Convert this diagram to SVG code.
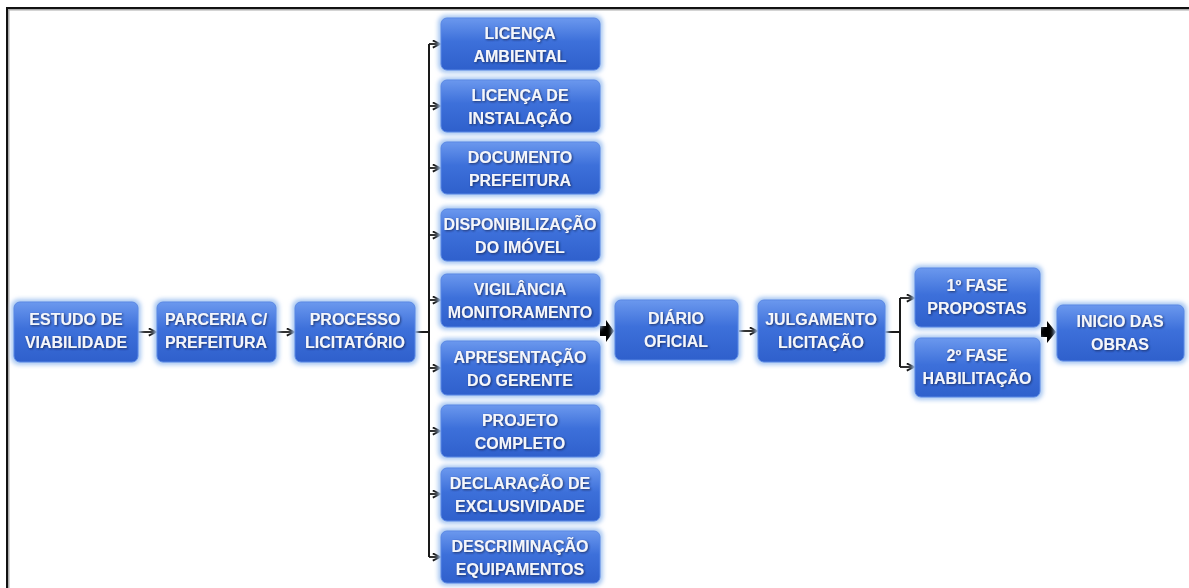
<svg xmlns="http://www.w3.org/2000/svg" width="1189" height="588" viewBox="0 0 1189 588">
<defs>
<linearGradient id="bg" x1="0" y1="0" x2="0" y2="1">
<stop offset="0" stop-color="#6b98ee"/>
<stop offset="0.45" stop-color="#3d70da"/>
<stop offset="1" stop-color="#2f60cc"/>
</linearGradient>
<filter id="glow" x="-10%" y="-20%" width="120%" height="140%">
<feGaussianBlur stdDeviation="2"/>
</filter>
<filter id="ts" x="-10%" y="-30%" width="120%" height="160%">
<feDropShadow dx="1" dy="1" stdDeviation="0.8" flood-color="#13295e" flood-opacity="0.9"/>
</filter>
<marker id="oa" viewBox="0 0 10 10" refX="9" refY="5" markerWidth="9" markerHeight="9" markerUnits="userSpaceOnUse" orient="auto">
<path d="M1,1 L9,5 L1,9" fill="none" stroke="#111" stroke-width="2"/>
</marker>
</defs>
<style>
.g{fill:#a9c8f2;filter:url(#glow)}
.b{fill:url(#bg);stroke:#5a88e4;stroke-width:1}
.t{font-family:"Liberation Sans",Arial,sans-serif;font-weight:bold;font-size:16px;fill:#f4f6fb;text-anchor:middle;filter:url(#ts)}
.c{fill:none;stroke:#1a1a1a;stroke-width:2}
.a{fill:none;stroke:#1a1a1a;stroke-width:1.8;marker-end:url(#oa)}
.k{fill:#000}
.f{stroke:#111;stroke-width:2;fill:none}
</style>
<rect width="1189" height="588" fill="#ffffff"/>
<g id="frame">
<path d="M8,589 L8,9 L1189,9" stroke="#aaa" stroke-width="3" fill="none"/>
<path d="M7,588 L7,8 L1189,8" class="f"/>
</g>
<g id="connectors">
<path class="a" d="M138,332 L156,332"/>
<path class="a" d="M276,332 L294,332"/>
<path class="c" d="M415,332 L429,332"/>
<path class="c" d="M429,44 L429,557"/>
<path class="a" d="M429,44 L440,44"/>
<path class="a" d="M429,106 L440,106"/>
<path class="a" d="M429,168 L440,168"/>
<path class="a" d="M429,235 L440,235"/>
<path class="a" d="M429,300 L440,300"/>
<path class="a" d="M429,368 L440,368"/>
<path class="a" d="M429,431 L440,431"/>
<path class="a" d="M429,494 L440,494"/>
<path class="a" d="M429,557 L440,557"/>
<path class="k" d="M600,326 L606,326 L606,320 L614,331 L606,342 L606,336 L600,336 Z"/>
<path class="a" d="M739,331 L757,331"/>
<path class="c" d="M885,332 L900,332"/>
<path class="c" d="M900,298 L900,367"/>
<path class="a" d="M900,298 L914,298"/>
<path class="a" d="M900,367 L914,367"/>
<path class="k" d="M1041,327 L1047,327 L1047,321 L1056,332 L1047,343 L1047,337 L1041,337 Z"/>
</g>
<g id="n-estudo"><rect class="g" x="11" y="299" width="130" height="66" rx="8"/><rect class="b" x="14" y="302" width="124" height="60" rx="6"/><text class="t" x="76" y="325">ESTUDO DE</text><text class="t" x="76" y="348">VIABILIDADE</text></g>
<g id="n-parceria"><rect class="g" x="154" y="299" width="125" height="66" rx="8"/><rect class="b" x="157" y="302" width="119" height="60" rx="6"/><text class="t" x="216" y="325">PARCERIA C/</text><text class="t" x="216" y="348">PREFEITURA</text></g>
<g id="n-processo"><rect class="g" x="292" y="299" width="126" height="66" rx="8"/><rect class="b" x="295" y="302" width="120" height="60" rx="6"/><text class="t" x="355" y="325">PROCESSO</text><text class="t" x="355" y="348">LICITATÓRIO</text></g>
<g id="n-licenca-amb"><rect class="g" x="438" y="15" width="165" height="58" rx="8"/><rect class="b" x="441" y="18" width="159" height="52" rx="6"/><text class="t" x="520" y="39">LICENÇA</text><text class="t" x="520" y="62">AMBIENTAL</text></g>
<g id="n-licenca-inst"><rect class="g" x="438" y="77" width="165" height="58" rx="8"/><rect class="b" x="441" y="80" width="159" height="52" rx="6"/><text class="t" x="520" y="101">LICENÇA DE</text><text class="t" x="520" y="124">INSTALAÇÃO</text></g>
<g id="n-documento"><rect class="g" x="438" y="139" width="165" height="58" rx="8"/><rect class="b" x="441" y="142" width="159" height="52" rx="6"/><text class="t" x="520" y="163">DOCUMENTO</text><text class="t" x="520" y="186">PREFEITURA</text></g>
<g id="n-disponib"><rect class="g" x="438" y="206" width="165" height="58" rx="8"/><rect class="b" x="441" y="209" width="159" height="52" rx="6"/><text class="t" x="520" y="230">DISPONIBILIZAÇÃO</text><text class="t" x="520" y="253">DO IMÓVEL</text></g>
<g id="n-vigilancia"><rect class="g" x="438" y="271" width="165" height="59" rx="8"/><rect class="b" x="441" y="274" width="159" height="53" rx="6"/><text class="t" x="520" y="295">VIGILÂNCIA</text><text class="t" x="520" y="318">MONITORAMENTO</text></g>
<g id="n-apresentacao"><rect class="g" x="438" y="338" width="165" height="60" rx="8"/><rect class="b" x="441" y="341" width="159" height="54" rx="6"/><text class="t" x="520" y="363">APRESENTAÇÃO</text><text class="t" x="520" y="386">DO GERENTE</text></g>
<g id="n-projeto"><rect class="g" x="438" y="402" width="165" height="58" rx="8"/><rect class="b" x="441" y="405" width="159" height="52" rx="6"/><text class="t" x="520" y="426">PROJETO</text><text class="t" x="520" y="449">COMPLETO</text></g>
<g id="n-declaracao"><rect class="g" x="438" y="465" width="165" height="59" rx="8"/><rect class="b" x="441" y="468" width="159" height="53" rx="6"/><text class="t" x="520" y="489">DECLARAÇÃO DE</text><text class="t" x="520" y="512">EXCLUSIVIDADE</text></g>
<g id="n-descriminacao"><rect class="g" x="438" y="528" width="165" height="58" rx="8"/><rect class="b" x="441" y="531" width="159" height="52" rx="6"/><text class="t" x="520" y="552">DESCRIMINAÇÃO</text><text class="t" x="520" y="575">EQUIPAMENTOS</text></g>
<g id="n-diario"><rect class="g" x="612" y="297" width="129" height="66" rx="8"/><rect class="b" x="615" y="300" width="123" height="60" rx="6"/><text class="t" x="676" y="324">DIÁRIO</text><text class="t" x="676" y="347">OFICIAL</text></g>
<g id="n-julgamento"><rect class="g" x="755" y="297" width="133" height="68" rx="8"/><rect class="b" x="758" y="300" width="127" height="62" rx="6"/><text class="t" x="821" y="325">JULGAMENTO</text><text class="t" x="821" y="348">LICITAÇÃO</text></g>
<g id="n-fase1"><rect class="g" x="912" y="265" width="131" height="65" rx="8"/><rect class="b" x="915" y="268" width="125" height="59" rx="6"/><text class="t" x="977" y="291">1º FASE</text><text class="t" x="977" y="314">PROPOSTAS</text></g>
<g id="n-fase2"><rect class="g" x="912" y="335" width="131" height="65" rx="8"/><rect class="b" x="915" y="338" width="125" height="59" rx="6"/><text class="t" x="977" y="361">2º FASE</text><text class="t" x="977" y="384">HABILITAÇÃO</text></g>
<g id="n-inicio"><rect class="g" x="1054" y="302" width="133" height="62" rx="8"/><rect class="b" x="1057" y="305" width="127" height="56" rx="6"/><text class="t" x="1120" y="327">INICIO DAS</text><text class="t" x="1120" y="350">OBRAS</text></g>
</svg>
